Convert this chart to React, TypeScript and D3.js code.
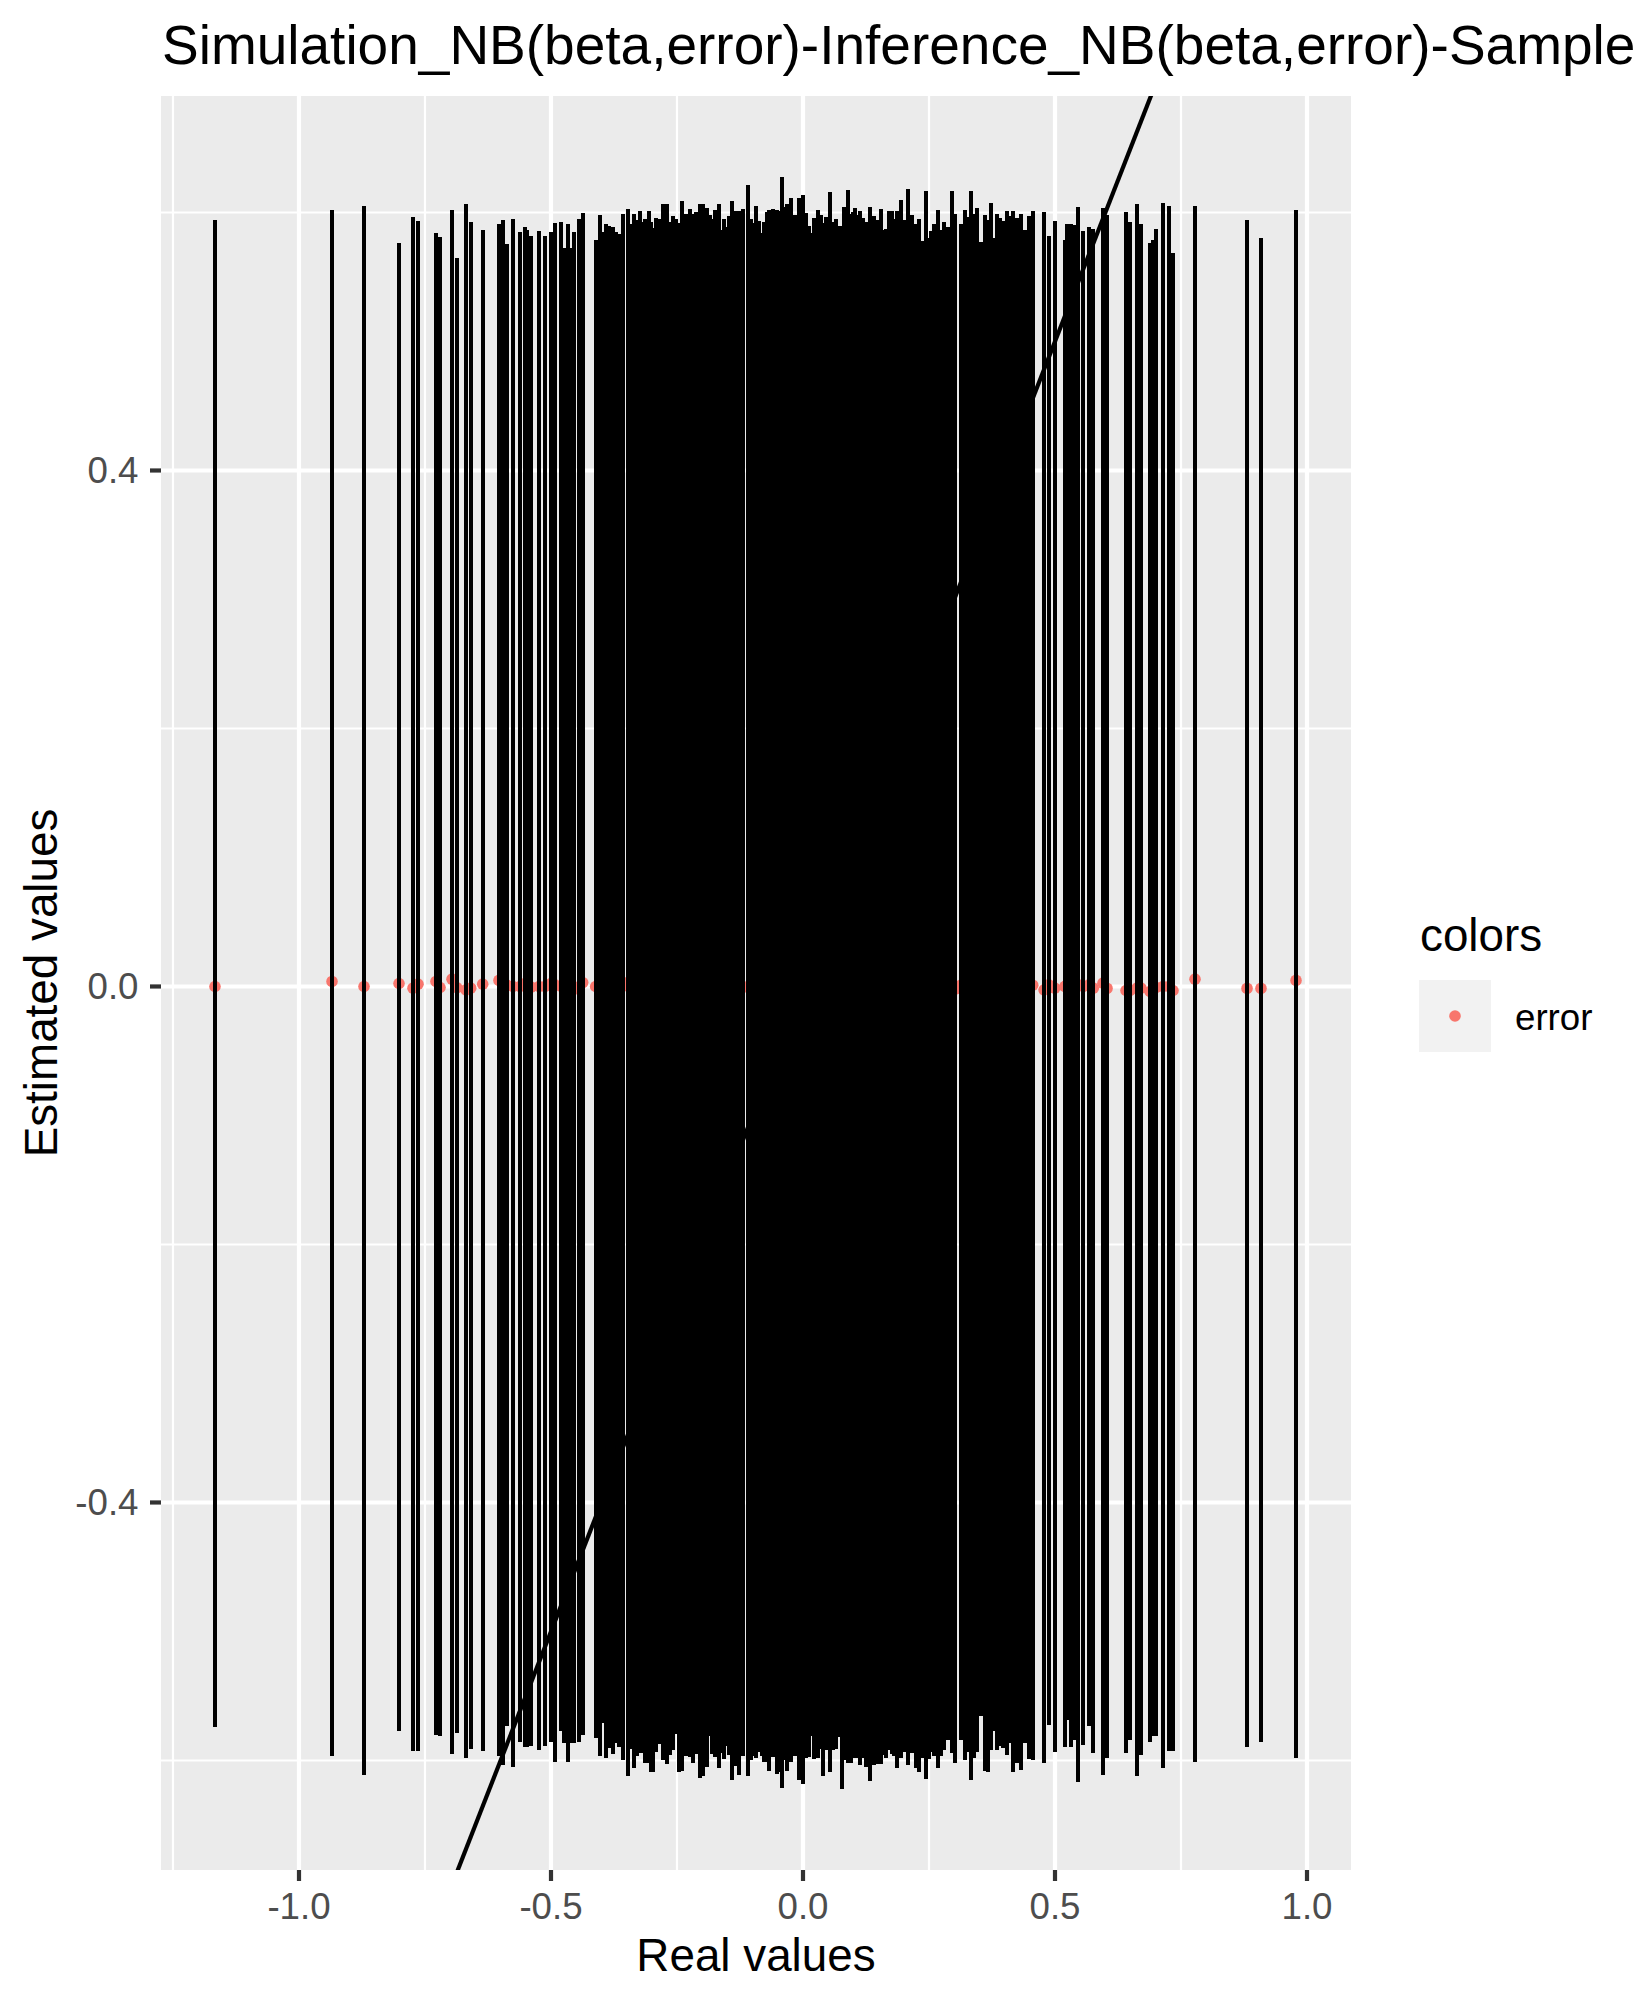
import React from "react";
import * as d3 from "d3";

// ---------- data: [real value, estimated value, lower bound, upper bound] ----------
const leftBars: [number, number, number, number][] = [
  [-1.1667, 0.0, -0.5744, 0.5943],
  [-0.9345, 0.0039, -0.5969, 0.6021],
  [-0.871, 0.0, -0.6116, 0.6052],
  [-0.8016, 0.0023, -0.5775, 0.5765],
  [-0.7738, -0.0013, -0.593, 0.5967],
  [-0.7639, 0.0018, -0.593, 0.5936],
  [-0.7282, 0.0039, -0.5801, 0.5843],
  [-0.7202, -0.0008, -0.5809, 0.5812],
  [-0.6964, 0.0057, -0.5946, 0.6021],
  [-0.6865, -0.001, -0.5788, 0.5649],
  [-0.6687, -0.0026, -0.5982, 0.6067],
  [-0.6593, -0.0013, -0.5909, 0.5928],
  [-0.6355, 0.0018, -0.593, 0.5866],
  [-0.6032, 0.0047, -0.5964, 0.5912],
  [-0.5952, 0.0, -0.6033, 0.5943],
  [-0.5879, 0.001, -0.5736, 0.5757],
  [-0.5754, 0.0, -0.6054, 0.5951],
  [-0.5615, 0.0, -0.586, 0.585],
  [-0.5516, 0.0023, -0.5899, 0.5889],
  [-0.547, 0.0, -0.5899, 0.5866],
  [-0.5397, -0.0005, -0.5891, 0.5819],
  [-0.5238, 0.0, -0.5917, 0.5858],
  [-0.5119, 0.0, -0.5886, 0.5819],
  [-0.5, 0.0023, -0.5853, 0.585],
  [-0.4921, 0.0013, -0.6015, 0.592],
];

const centerBars: [number, number, number, number][] = [
  [-0.4795, 0.0, -0.577, 0.5923],
  [-0.4735, 0.002, -0.5863, 0.5726],
  [-0.4656, -0.001, -0.6008, 0.5912],
  [-0.4596, 0.001, -0.5863, 0.5726],
  [-0.455, 0.0, -0.5863, 0.5845],
  [-0.4451, -0.002, -0.5853, 0.5951],
  [-0.4372, 0.003, -0.5801, 0.5998],
  [-0.4114, 0.0, -0.5822, 0.5788],
  [-0.4034, 0.001, -0.5962, 0.5982],
  [-0.3975, -0.001, -0.5708, 0.585],
  [-0.3915, 0.0, -0.5977, 0.5912],
  [-0.3843, 0.002, -0.59, 0.5897],
  [-0.377, 0.0, -0.5951, 0.5887],
  [-0.3717, -0.002, -0.5861, 0.585],
  [-0.3658, 0.001, -0.5894, 0.5837],
  [-0.3578, 0.0, -0.6, 0.5992],
  [-0.3479, 0.003, -0.6117, 0.6029],
  [-0.342, -0.001, -0.5912, 0.591],
  [-0.3354, 0.0, -0.6062, 0.5987],
  [-0.3287, 0.001, -0.5969, 0.5943],
  [-0.3235, -0.003, -0.5941, 0.6013],
  [-0.3175, 0.0, -0.5941, 0.5923],
  [-0.3129, 0.002, -0.6021, 0.5951],
  [-0.3063, -0.001, -0.6021, 0.6013],
  [-0.301, 0.0, -0.6086, 0.5923],
  [-0.2977, 0.001, -0.6086, 0.5879],
  [-0.2917, -0.002, -0.5931, 0.5959],
  [-0.2858, 0.0, -0.5786, 0.5814],
  [-0.2831, 0.002, -0.5876, 0.5951],
  [-0.2778, -0.001, -0.5995, 0.6062],
  [-0.2706, 0.0, -0.6031, 0.6062],
  [-0.2646, 0.001, -0.5956, 0.5923],
  [-0.258, 0.0, -0.5918, 0.5974],
  [-0.2514, -0.002, -0.5794, 0.5949],
  [-0.2468, 0.003, -0.6086, 0.5915],
  [-0.2402, 0.0, -0.6078, 0.6091],
  [-0.2329, -0.001, -0.5964, 0.5987],
  [-0.225, 0.001, -0.5972, 0.6029],
  [-0.2184, 0.0, -0.6021, 0.5992],
  [-0.2124, 0.002, -0.5951, 0.6],
  [-0.2045, -0.001, -0.6132, 0.6062],
  [-0.1979, 0.0, -0.6124, 0.6062],
  [-0.1913, 0.001, -0.6047, 0.6036],
  [-0.1847, -0.002, -0.5809, 0.5982],
  [-0.18, 0.0, -0.5949, 0.5949],
  [-0.1741, 0.002, -0.5974, 0.6016],
  [-0.1668, 0.0, -0.6055, 0.6062],
  [-0.1622, -0.001, -0.5941, 0.5861],
  [-0.1569, 0.001, -0.5987, 0.5946],
  [-0.1503, 0.0, -0.5889, 0.5884],
  [-0.1463, -0.003, -0.5956, 0.5974],
  [-0.141, 0.001, -0.6155, 0.6091],
  [-0.1331, 0.0, -0.6042, 0.6013],
  [-0.1265, 0.002, -0.6109, 0.6013],
  [-0.1199, -0.001, -0.5964, 0.6029],
  [-0.1093, 0.0, -0.6117, 0.621],
  [-0.1033, 0.001, -0.5995, 0.5946],
  [-0.0994, -0.002, -0.5964, 0.5915],
  [-0.0934, 0.0, -0.598, 0.6047],
  [-0.0868, 0.002, -0.5931, 0.5936],
  [-0.0822, 0.0, -0.5967, 0.584],
  [-0.0776, -0.001, -0.6008, 0.593],
  [-0.0716, 0.001, -0.6008, 0.6003],
  [-0.067, 0.0, -0.6078, 0.6021],
  [-0.0597, -0.002, -0.5974, 0.6029],
  [-0.0511, 0.001, -0.6106, 0.6021],
  [-0.0491, -0.001, -0.609, 0.601],
  [-0.0419, 0.0, -0.621, 0.6272],
  [-0.0366, 0.002, -0.5993, 0.6039],
  [-0.0313, -0.001, -0.6078, 0.6062],
  [-0.024, 0.0, -0.6008, 0.6114],
  [-0.0161, 0.001, -0.5962, 0.5977],
  [-0.0082, -0.001, -0.6155, 0.6114],
  [-0.0002, 0.0, -0.6181, 0.6137],
  [0.0057, 0.002, -0.5977, 0.5995],
  [0.0117, -0.002, -0.5974, 0.5897],
  [0.017, 0.0, -0.5814, 0.584],
  [0.0216, 0.001, -0.5987, 0.5959],
  [0.0295, -0.001, -0.5982, 0.6021],
  [0.0355, 0.0, -0.5912, 0.598],
  [0.0394, 0.002, -0.6119, 0.5918],
  [0.0454, 0.0, -0.5918, 0.5964],
  [0.0533, -0.001, -0.6093, 0.616],
  [0.0593, 0.001, -0.5915, 0.593],
  [0.0652, 0.0, -0.591, 0.5951],
  [0.0711, -0.002, -0.5817, 0.5897],
  [0.0771, 0.001, -0.622, 0.5897],
  [0.0811, 0.0, -0.5995, 0.6039],
  [0.089, 0.002, -0.6016, 0.6176],
  [0.095, -0.001, -0.6016, 0.599],
  [0.0989, 0.0, -0.5918, 0.6005],
  [0.1036, 0.001, -0.5982, 0.6036],
  [0.1075, -0.002, -0.5982, 0.5982],
  [0.1128, 0.0, -0.6034, 0.6013],
  [0.1188, 0.002, -0.5982, 0.5961],
  [0.1247, 0.0, -0.6049, 0.5928],
  [0.1326, -0.001, -0.6158, 0.6044],
  [0.1406, 0.001, -0.6034, 0.5969],
  [0.1465, 0.0, -0.5956, 0.5887],
  [0.1492, -0.002, -0.6026, 0.5943],
  [0.1545, 0.001, -0.6026, 0.6029],
  [0.1591, 0.0, -0.5954, 0.5868],
  [0.1644, 0.002, -0.598, 0.5874],
  [0.171, -0.001, -0.5918, 0.6008],
  [0.1763, 0.0, -0.5949, 0.6008],
  [0.1809, 0.001, -0.5962, 0.5951],
  [0.1868, 0.0, -0.6062, 0.6008],
  [0.1948, -0.002, -0.5982, 0.6098],
  [0.2014, 0.001, -0.5931, 0.5943],
  [0.208, 0.0, -0.6034, 0.6184],
  [0.2159, 0.002, -0.5943, 0.5977],
  [0.2238, -0.001, -0.6062, 0.5907],
  [0.2305, 0.0, -0.6086, 0.5951],
  [0.2377, 0.001, -0.5982, 0.5781],
  [0.2437, 0.0, -0.6142, 0.6168],
  [0.2496, -0.002, -0.599, 0.5804],
  [0.2536, 0.001, -0.5933, 0.5858],
  [0.2596, 0.0, -0.5964, 0.5912],
  [0.2675, 0.002, -0.6055, 0.6021],
  [0.2734, -0.001, -0.5964, 0.5861],
  [0.2794, 0.0, -0.5918, 0.5923],
  [0.2873, 0.001, -0.584, 0.5887],
  [0.2952, 0.0, -0.5943, 0.6168],
  [0.3018, -0.002, -0.6016, 0.5985],
  [0.3131, 0.001, -0.584, 0.5912],
  [0.321, 0.0, -0.5995, 0.6021],
  [0.327, 0.002, -0.5938, 0.5964],
  [0.3329, -0.001, -0.615, 0.6168],
  [0.3389, 0.0, -0.598, 0.5985],
  [0.3448, 0.001, -0.5933, 0.6036],
  [0.3527, 0.0, -0.5654, 0.5768],
  [0.3607, -0.002, -0.608, 0.5977],
  [0.3666, 0.001, -0.6093, 0.5943],
  [0.3726, 0.0, -0.5918, 0.6075],
  [0.3785, 0.002, -0.577, 0.5804],
  [0.3845, -0.001, -0.5915, 0.5992],
  [0.3904, 0.0, -0.5887, 0.5961],
  [0.3964, 0.001, -0.5905, 0.5936],
  [0.4043, 0.0, -0.5956, 0.6008],
  [0.4103, -0.002, -0.5863, 0.5969],
  [0.4162, 0.001, -0.6086, 0.6013],
  [0.4241, 0.0, -0.6021, 0.5961],
  [0.4321, 0.002, -0.6073, 0.5992],
  [0.44, -0.001, -0.5861, 0.5863],
  [0.4479, 0.0, -0.5987, 0.5974],
  [0.4559, 0.001, -0.5993, 0.6013],
  [0.4783, -0.0026, -0.6016, 0.6],
  [0.4876, 0.0013, -0.5724, 0.5814],
  [0.4995, -0.0013, -0.5931, 0.5936],
  [0.5193, 0.0, -0.5892, 0.5788],
  [0.5233, 0.001, -0.5685, 0.5907],
  [0.5312, -0.001, -0.5897, 0.5912],
  [0.5392, 0.0, -0.584, 0.5905],
  [0.5464, 0.0013, -0.6163, 0.6039],
];

const rightBars: [number, number, number, number][] = [
  [0.5562, 0.0, -0.5878, 0.5853],
  [0.5675, 0.0013, -0.5729, 0.5889],
  [0.576, -0.0013, -0.5943, 0.5874],
  [0.5952, 0.0026, -0.6116, 0.6036],
  [0.6032, -0.0015, -0.5982, 0.5982],
  [0.6409, -0.0031, -0.5943, 0.6005],
  [0.6488, -0.0031, -0.5845, 0.5928],
  [0.6627, -0.0013, -0.6124, 0.6067],
  [0.6706, -0.0013, -0.5959, 0.5912],
  [0.6885, -0.0039, -0.586, 0.5765],
  [0.6951, -0.002, -0.5814, 0.5788],
  [0.7004, -0.0008, -0.5809, 0.5874],
  [0.7143, 0.0, -0.6062, 0.6075],
  [0.7262, 0.0, -0.593, 0.6052],
  [0.7341, -0.0031, -0.593, 0.5688],
  [0.7778, 0.0057, -0.6015, 0.6052],
  [0.881, -0.0015, -0.5899, 0.5943],
  [0.9087, -0.0015, -0.586, 0.5804],
  [0.9782, 0.0047, -0.5977, 0.6021],
];

const xMajorBreaks = [-1.0, -0.5, 0.0, 0.5, 1.0];
const xMinorBreaks = [-1.25, -0.75, -0.25, 0.25, 0.75];
const yMajorBreaks = [-0.4, 0.0, 0.4];
const yMinorBreaks = [-0.6, -0.2, 0.2, 0.6];
const xTickLabels = ["-1.0", "-0.5", "0.0", "0.5", "1.0"];
const yTickLabels = ["-0.4", "0.0", "0.4"];
const xDomain: [number, number] = [-1.2738, 1.0873];
const yDomain: [number, number] = [-0.6849, 0.6903];

const titleText = "Simulation_NB(beta,error)-Inference_NB(beta,error)-Sample";
const xTitle = "Real values";
const yTitle = "Estimated values";
const legendTitle = "colors";
const legendLabel = "error";

// ---------- layout ----------
const W = 1637;
const H = 2003;
const P = { left: 161, right: 1351, top: 96, bottom: 1870 };
const FONT = "'Liberation Sans', Arial, Helvetica, sans-serif";
const POINT_COLOR = "#F8766D";

export default function App() {
  const x = d3.scaleLinear().domain(xDomain).range([P.left, P.right]);
  const y = d3.scaleLinear().domain(yDomain).range([P.bottom, P.top]);
  const all = [...leftBars, ...centerBars, ...rightBars];

  const abline = d3
    .line<number>()
    .x((d) => x(d))
    .y((d) => y(d))([xDomain[0], xDomain[1]]);

  return (
    <svg
      width={W}
      height={H}
      viewBox={`0 0 ${W} ${H}`}
      style={{ position: "absolute", left: 0, top: 0, display: "block", background: "#fff" }}
      fontFamily={FONT}
    >
      <defs>
        <clipPath id="panel-clip">
          <rect x={P.left} y={P.top} width={P.right - P.left} height={P.bottom - P.top} />
        </clipPath>
      </defs>

      <text x={162} y={64} fontSize={55} fill="#000">
        {titleText}
      </text>

      <rect x={P.left} y={P.top} width={P.right - P.left} height={P.bottom - P.top} fill="#EBEBEB" />

      <g clipPath="url(#panel-clip)">
        {xMinorBreaks.map((b) => (
          <line key={"xm" + b} x1={x(b)} x2={x(b)} y1={P.top} y2={P.bottom} stroke="#fff" strokeWidth={2.2} />
        ))}
        {yMinorBreaks.map((b) => (
          <line key={"ym" + b} x1={P.left} x2={P.right} y1={y(b)} y2={y(b)} stroke="#fff" strokeWidth={2.2} />
        ))}
        {xMajorBreaks.map((b) => (
          <line key={"xM" + b} x1={x(b)} x2={x(b)} y1={P.top} y2={P.bottom} stroke="#fff" strokeWidth={4.2} />
        ))}
        {yMajorBreaks.map((b) => (
          <line key={"yM" + b} x1={P.left} x2={P.right} y1={y(b)} y2={y(b)} stroke="#fff" strokeWidth={4.2} />
        ))}

        {all.map((d, i) => (
          <circle key={"p" + i} cx={x(d[0])} cy={y(d[1])} r={5.8} fill={POINT_COLOR} />
        ))}

        <g shapeRendering="crispEdges">
          {all.map((d, i) => (
            <line
              key={"e" + i}
              x1={Math.round(x(d[0]))}
              x2={Math.round(x(d[0]))}
              y1={y(d[2])}
              y2={y(d[3])}
              stroke="#000"
              strokeWidth={4}
              strokeLinecap="butt"
            />
          ))}
        </g>

        <path d={abline || ""} stroke="#000" strokeWidth={4.2} fill="none" />
      </g>

      {/* x axis */}
      {xMajorBreaks.map((b, i) => (
        <g key={"xt" + b}>
          <line x1={x(b)} x2={x(b)} y1={P.bottom} y2={P.bottom + 11} stroke="#333333" strokeWidth={4.2} />
          <text x={x(b)} y={1919} fontSize={36.7} fill="#4D4D4D" textAnchor="middle">
            {xTickLabels[i]}
          </text>
        </g>
      ))}
      {/* y axis */}
      {yMajorBreaks.map((b, i) => (
        <g key={"yt" + b}>
          <line x1={P.left - 11} x2={P.left} y1={y(b)} y2={y(b)} stroke="#333333" strokeWidth={4.2} />
          <text x={138.5} y={y(b) + 13} fontSize={36.7} fill="#4D4D4D" textAnchor="end">
            {yTickLabels[i]}
          </text>
        </g>
      ))}

      <text x={(P.left + P.right) / 2} y={1971} fontSize={45.8} fill="#000" textAnchor="middle">
        {xTitle}
      </text>
      <text
        transform={`translate(57,${(P.top + P.bottom) / 2}) rotate(-90)`}
        fontSize={45.8}
        fill="#000"
        textAnchor="middle"
      >
        {yTitle}
      </text>

      {/* legend */}
      <text x={1420} y={951} fontSize={45.8} fill="#000">
        {legendTitle}
      </text>
      <rect x={1419} y={980} width={72} height={72} fill="#F2F2F2" />
      <circle cx={1455} cy={1016} r={5.8} fill={POINT_COLOR} />
      <text x={1515} y={1030} fontSize={36.7} fill="#000">
        {legendLabel}
      </text>
    </svg>
  );
}
